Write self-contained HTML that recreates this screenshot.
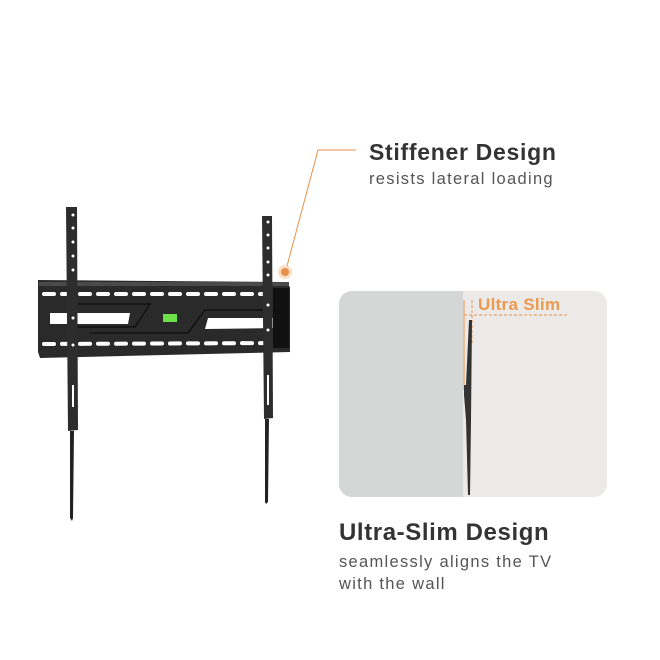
<!DOCTYPE html>
<html><head><style>
body{margin:0;background:#fff;}
svg{display:block}
text{font-family:"Liberation Sans",sans-serif}
</style></head><body>
<svg width="660" height="660" viewBox="0 0 660 660" xmlns="http://www.w3.org/2000/svg">
<rect width="660" height="660" fill="#fff"/>
<polyline points="356,150 318,150 287,266" fill="none" stroke="#e8904a" stroke-width="1"/>
<circle cx="285" cy="272" r="7" fill="#f5c9a0" opacity="0.6"/>
<circle cx="285" cy="272" r="4" fill="#e8904a"/>
<text x="369" y="160" font-size="23" font-weight="bold" fill="#333" letter-spacing="0.7">Stiffener Design</text>
<text x="369" y="184" font-size="16.5" fill="#555" letter-spacing="1.3">resists lateral loading</text>

<polygon points="38,280 285,282 290,287 290,352 40,358 38,352" fill="#2a2a2a"/>
<rect x="39" y="282" width="250" height="4" fill="#4a4a4a"/>
<g stroke="#fff" stroke-width="4" stroke-dasharray="10,8" stroke-linecap="round">
<line x1="44" y1="294" x2="282" y2="294"/>
<line x1="44" y1="344" x2="282" y2="343"/>
</g>
<polygon points="50,313 130,313 128,324 50,324" fill="#fff"/>
<polygon points="208,318 278,318 278,328 205,329" fill="#fff"/>
<polyline points="78,304 150,304 135,327 70,327" fill="none" stroke="#111" stroke-width="1.5"/>
<polyline points="285,310 205,310 188,333 90,333" fill="none" stroke="#111" stroke-width="1.5"/>
<rect x="163" y="314" width="14" height="8" fill="#6ee04a"/>
<rect x="273" y="288" width="16" height="60" fill="#111"/>
<polygon points="66,207 77,207 78,430 68,431" fill="#2d2d2d"/>
<polygon points="70,431 74,431 73,518 72,521 70,518" fill="#222"/>
<g fill="#fff"><circle cx="73" cy="215" r="1.5"/><circle cx="73" cy="228" r="1.5"/><circle cx="73" cy="242" r="1.5"/><circle cx="73" cy="256" r="1.5"/><circle cx="73" cy="270" r="1.5"/><circle cx="73" cy="318" r="1.5"/><circle cx="73" cy="345" r="1.5"/>
<rect x="72" y="385" width="2" height="22"/></g>
<polygon points="262,216 272,216 273,418 264,419" fill="#2d2d2d"/>
<polygon points="265,419 269,419 268,502 266,504 265,502" fill="#222"/>
<g fill="#fff"><circle cx="268" cy="222" r="1.5"/><circle cx="268" cy="235" r="1.5"/><circle cx="268" cy="248" r="1.5"/><circle cx="268" cy="262" r="1.5"/><circle cx="268" cy="275" r="1.5"/><circle cx="268" cy="305" r="1.5"/><circle cx="268" cy="330" r="1.5"/>
<rect x="267" y="375" width="2" height="30"/></g>

<clipPath id="c"><rect x="339" y="291" width="268" height="206" rx="13"/></clipPath>
<g clip-path="url(#c)">
<rect x="339" y="291" width="268" height="206" fill="#ebeae8"/>
<rect x="339" y="291" width="124" height="206" fill="#d5d7d6"/>
</g>
<line x1="464" y1="300" x2="464" y2="390" stroke="#e8904a" stroke-width="1"/>
<line x1="472" y1="300" x2="472" y2="343" stroke="#e8904a" stroke-width="1" stroke-dasharray="3,2"/>
<line x1="464" y1="315" x2="567" y2="315" stroke="#e8904a" stroke-width="1" stroke-dasharray="3,2"/>
<text x="478" y="310" font-size="17" font-weight="bold" fill="#eb9a50" letter-spacing="0.3">Ultra Slim</text>
<polygon points="469,320 472,320 471,420 470,495 468,495 466,420 464,395 464,385 466,385" fill="#333"/>
<text x="339" y="540" font-size="24" font-weight="bold" fill="#333" letter-spacing="0.6">Ultra-Slim Design</text>
<text x="339" y="567" font-size="16.5" fill="#555" letter-spacing="1.3">seamlessly aligns the TV</text>
<text x="339" y="589" font-size="16.5" fill="#555" letter-spacing="1.3">with the wall</text>
</svg>
</body></html>
